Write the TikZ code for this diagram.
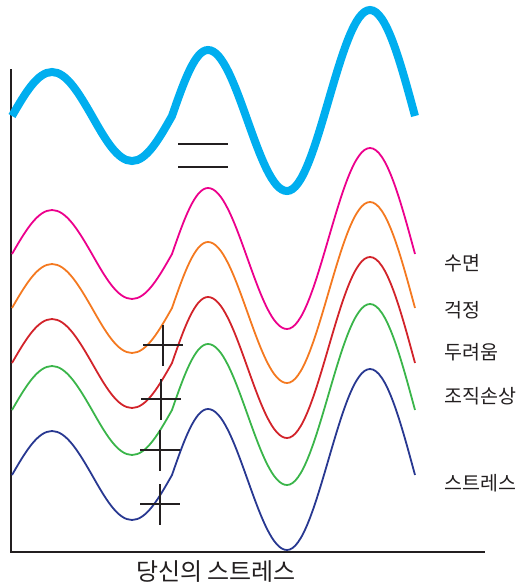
\documentclass[tikz,border=0pt]{standalone}
\usepackage{fontspec}
\newfontfamily\krfont{Noto Sans CJK KR}
\definecolor{wcyan}{HTML}{00AEEF}
\definecolor{wmag}{HTML}{EC008C}
\definecolor{worange}{HTML}{F47920}
\definecolor{wred}{HTML}{D2232A}
\definecolor{wgreen}{HTML}{3AB54A}
\definecolor{wnavy}{HTML}{283891}
\definecolor{inkdark}{HTML}{231F20}
\tikzset{
  wavethick/.style={line width=8pt},
  wavethin/.style={line width=1.8pt},
  axisline/.style={draw=inkdark, line width=2.6pt},
  crossline/.style={draw=inkdark, line width=2.4pt},
  eqline/.style={draw=inkdark, line width=2pt},
  lbl/.style={inner sep=0pt, anchor=west, text=inkdark, font=\krfont\fontsize{19.5}{22}\selectfont},
  axlbl/.style={inner sep=0pt, text=inkdark, font=\krfont\fontsize{24}{27}\selectfont}
}
\begin{document}
\begin{tikzpicture}[x=1pt,y=-1pt]
\useasboundingbox (0,0) rectangle (519,587);
% axes
\coordinate (ytop) at (11,69);
\coordinate (origin) at (11,552);
\coordinate (xend) at (485,552);
\draw[axisline] (ytop) -- (origin) -- (xend);
% waves
\foreach \b/\col/\st in {116/wcyan/wavethick, 254/wmag/wavethin, 308/worange/wavethin, 363/wred/wavethin, 410/wgreen/wavethin, 475/wnavy/wavethin}{
  \draw[\st, draw=\col] (12,\b) sin (52,\b-44) cos (92,\b) sin (132,\b+45) cos (172,\b)
    sin (208,\b-66) cos (247.5,\b+4.5) sin (287,\b+75) cos (328.5,\b-15.5) sin (370,\b-106) cos (415,\b);
}
% equals sign
\coordinate (e1a) at (178,144); \coordinate (e1b) at (228,144);
\coordinate (e2a) at (178,167); \coordinate (e2b) at (228,167);
\draw[eqline] (e1a) -- (e1b);
\draw[eqline] (e2a) -- (e2b);
% plus signs
\foreach \cx/\cy in {163/345, 161/399, 160/450, 160/504}{
  \draw[crossline] (\cx-20,\cy) -- (\cx+20,\cy);
  \draw[crossline] (\cx,\cy-20) -- (\cx,\cy+21);
}
% labels
\node[lbl] (l1) at (444,263) {수면};
\node[lbl] (l2) at (444,310) {걱정};
\node[lbl] (l3) at (444,352) {두려움};
\node[lbl] (l4) at (444,396) {조직손상};
\node[lbl] (l5) at (444,483) {스트레스};
\node[axlbl] (xl) at (216,572) {당신의 스트레스};
\end{tikzpicture}
\end{document}
